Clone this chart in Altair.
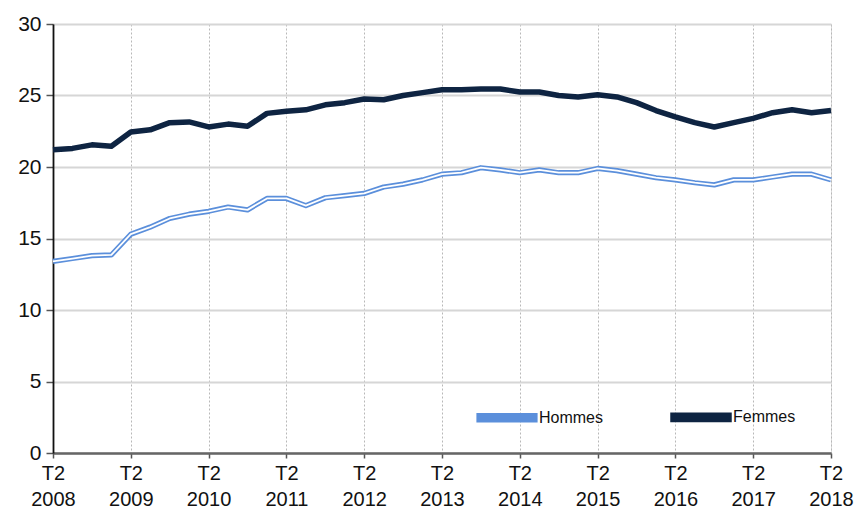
import altair as alt
import pandas as pd

years = list(range(2008, 2019))
quarters = list(range(41))  # T2 2008 .. T2 2018, quarterly

hommes = [13.4, 13.6, 13.8, 13.85, 15.3, 15.8, 16.4, 16.7, 16.9, 17.2,
          17.0, 17.8, 17.8, 17.3, 17.85, 18.0, 18.15, 18.6, 18.8, 19.1,
          19.5, 19.6, 19.95, 19.8, 19.6, 19.8, 19.6, 19.6, 19.9, 19.75,
          19.5, 19.25, 19.1, 18.9, 18.75, 19.1, 19.1, 19.3, 19.5, 19.5,
          19.1]
femmes = [21.2, 21.3, 21.55, 21.45, 22.45, 22.6, 23.1, 23.15, 22.8, 23.0,
          22.85, 23.75, 23.9, 24.0, 24.35, 24.5, 24.75, 24.7, 25.0, 25.2,
          25.4, 25.4, 25.45, 25.45, 25.25, 25.25, 25.0, 24.9, 25.05, 24.9,
          24.5, 23.95, 23.5, 23.1, 22.8, 23.1, 23.4, 23.8, 24.0, 23.8,
          23.95]
series = ["Hommes", "Femmes"]
colors = ["#5b8fdb", "#0e2442"]
fills = ["#ffffff", "#0e2442"]

rows = []
for name, vals in zip(series, [hommes, femmes]):
    for q, v in zip(quarters, vals):
        rows.append({"q": q, "serie": name, "val": v})
df = pd.DataFrame(rows)

bar_path = "M-1,-0.075 L1,-0.075 L1,0.075 L-1,0.075 Z"

x = alt.X("q:Q", scale=alt.Scale(domain=[0, 40], nice=False, zero=False),
          axis=alt.Axis(values=[i * 4 for i in range(11)], title=None,
                        labelExpr="['T2', '' + (2008 + datum.value / 4)]",
                        labelFontSize=20, labelLineHeight=26, labelColor="#111",
                        labelFont="Liberation Sans", labelPadding=5, labelFlush=False,
                        tickSize=5, tickColor="#555", tickWidth=1.5,
                        domainColor="#666", domainWidth=2.5,
                        grid=True, gridDash=[2, 2], gridColor="#b8b8b8", gridWidth=1))
y = alt.Y("val:Q", scale=alt.Scale(domain=[0, 30], nice=False),
          axis=alt.Axis(values=[0, 5, 10, 15, 20, 25, 30], title=None,
                        labelFontSize=21, labelColor="#111", labelFont="Liberation Sans",
                        labelPadding=5, labelFlush=False, tickSize=7, tickColor="#555",
                        tickWidth=1.5, domainColor="#111", domainWidth=1.8,
                        grid=True, gridColor="#d6d6d6", gridWidth=2))

base = alt.Chart(df)

leg = alt.Legend(title=None, orient="none", direction="horizontal",
                 legendX=423, legendY=362, symbolSize=3136, symbolStrokeWidth=1.5,
                 symbolOpacity=1, labelFontSize=16, labelFont="Liberation Sans",
                 labelColor="#111", columnPadding=58, padding=0, labelOffset=1)

legend_layer = base.mark_point(size=3136, strokeWidth=1.5, opacity=0, filled=True).encode(
    x=x, y=y,
    shape=alt.Shape("serie:N", scale=alt.Scale(domain=series, range=[bar_path, bar_path]),
                    legend=leg),
    fill=alt.Fill("serie:N", scale=alt.Scale(domain=series, range=fills), legend=leg),
    stroke=alt.Stroke("serie:N", scale=alt.Scale(domain=series, range=colors), legend=leg),
)

lines = base.mark_line(strokeJoin="round").encode(
    x=x, y=y,
    color=alt.Color("serie:N", scale=alt.Scale(domain=series, range=colors), legend=None),
    strokeWidth=alt.StrokeWidth("serie:N", scale=alt.Scale(domain=series, range=[5.2, 5.5]),
                                legend=None),
    detail="serie:N",
)

inner = base.transform_filter(alt.datum.serie == "Hommes").mark_line(
    color="white", strokeWidth=1.8, strokeJoin="round").encode(x=x, y=y)

chart = alt.layer(legend_layer, lines, inner).properties(
    width=778, height=429,
    autosize=alt.AutoSizeParams(type="none"),
    padding={"left": 45, "top": 16, "right": 24, "bottom": 58},
).configure_view(stroke="#808080", strokeWidth=2).configure(background="white")

chart.save("out.html", embed_options={"renderer": "svg", "actions": False})
